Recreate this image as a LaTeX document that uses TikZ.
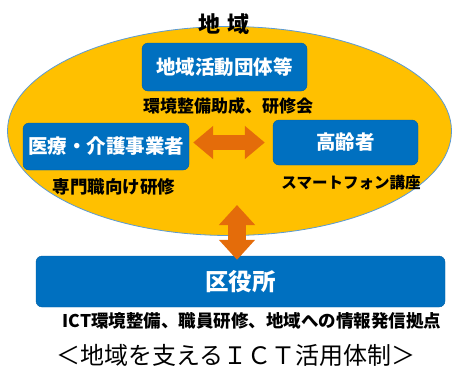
\documentclass[tikz,border=0pt]{standalone}
\usepackage{fontspec}
\setmainfont{Noto Sans CJK JP}
\usepackage{tikz}
\usetikzlibrary{shapes.geometric, arrows.meta}
\definecolor{areayellow}{RGB}{255,192,0}
\definecolor{areaedge}{RGB}{91,155,213}
\definecolor{boxblue}{RGB}{0,112,192}
\definecolor{arroworange}{RGB}{228,108,10}
\tikzset{orgbox/.style={rectangle, rounded corners=6pt, fill=boxblue, draw=boxblue!85!black, line width=0.4pt, text=white, font=\bfseries\fontsize{19.5}{20}\selectfont, inner sep=0pt},
  sublabel/.style={font=\bfseries\fontsize{17}{17}\selectfont, inner sep=0pt},
  linkarrow/.style={draw=arroworange, line cap=butt}}

\begin{document}
\begin{tikzpicture}[x=1pt, y=-1pt]
      \useasboundingbox (0,0) rectangle (454,367);

      % the region
      \node[ellipse, fill=areayellow, draw=areaedge, line width=0.8pt, minimum width=444pt, minimum height=209pt, inner sep=0pt] (chiiki) at (229.5,131) {};
      \node[font=\bfseries\fontsize{22}{22}\selectfont, inner sep=0pt] (chiikititle) at (224,24) {地\hspace{0.35em}域};

      % actors
      \node[orgbox, minimum width=165pt, minimum height=48pt] (dantai) at (224.5,67) {地域活動団体等};
      \node[sublabel] (dantaisub) at (228,106) {環境整備助成、研修会};

      \node[orgbox, minimum width=166pt, minimum height=47pt] (iryo) at (106,146.5) {医療・介護事業者};
      \node[sublabel, font=\bfseries\fontsize{17.5}{18}\selectfont] (iryosub) at (114,187) {専門職向け研修};

      \node[orgbox, minimum width=145pt, minimum height=45pt] (koreisha) at (345.5,142.5) {高齢者};
      \node[sublabel, font=\bfseries\fontsize{15.5}{16}\selectfont] (koreishasub) at (351,183) {スマートフォン講座};

      % ward office
      \node[orgbox, minimum width=409pt, minimum height=51pt, font=\bfseries\fontsize{23.5}{24}\selectfont] (kuyakusho) at (240.5,281.5) {区役所};
      \node[sublabel, font=\bfseries\fontsize{17.5}{18}\selectfont] (kuyakushosub) at (252,321) {ICT環境整備、職員研修、地域への情報発信拠点};

      % arrows
      \draw[linkarrow, line width=15pt, {Triangle[width=32pt,length=20pt]}-{Triangle[width=32pt,length=20pt]}, shorten <=4pt, shorten >=8pt] (iryo.east |- koreisha.west) -- (koreisha.west);
      \coordinate (uptip) at (237,205);
      \draw[linkarrow, line width=18pt, {Triangle[width=35pt,length=20pt]}-{Triangle[width=35pt,length=20pt]}, shorten >=-4pt] (uptip) -- (uptip |- kuyakusho.north);

      \node[font=\fontsize{24}{24}\selectfont, inner sep=0pt] (caption) at (236,355) {＜地域を支えるＩＣＴ活用体制＞};
\end{tikzpicture}
\end{document}
